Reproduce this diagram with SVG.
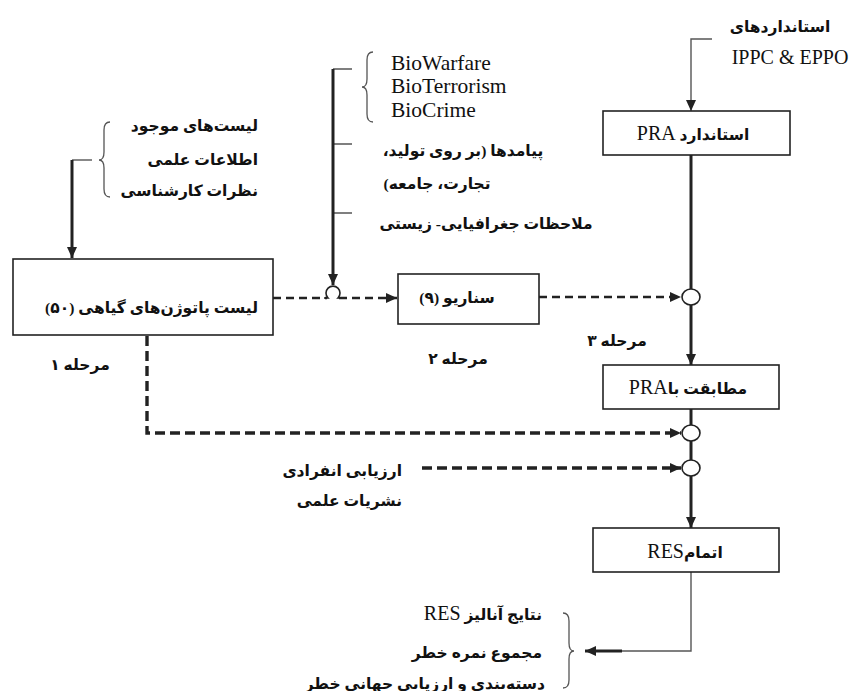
<svg xmlns="http://www.w3.org/2000/svg" width="850" height="691" viewBox="0 0 850 691">
<style>
.box{fill:#fff;stroke:#222;stroke-width:1.6}
.fa{font-family:"Liberation Serif","DejaVu Sans",serif;font-size:15.5px;font-weight:bold;fill:#111}
.lat{font-family:"Liberation Serif",serif;font-size:20px;font-weight:normal}
.en{font-family:"Liberation Serif",serif;font-size:20px;fill:#111}
.bio{font-size:21.5px}
.thick{fill:none;stroke:#222;stroke-width:3}
.thin{fill:none;stroke:#555;stroke-width:1.4}
.dash{fill:none;stroke:#222;stroke-width:2.6;stroke-dasharray:8 5}
.dash2{fill:none;stroke:#222;stroke-width:3.4;stroke-dasharray:10 5}
.junc{fill:#fff;stroke:#222;stroke-width:1.6}
.brace{fill:none;stroke:#555;stroke-width:1.3}
</style>
<defs>
<marker id="arr" markerUnits="userSpaceOnUse" markerWidth="12" markerHeight="12" refX="11" refY="6" orient="auto">
<path d="M0,1 L11,6 L0,11 z" fill="#222"/>
</marker>
</defs>
<rect width="850" height="691" fill="#fff"/>

<g id="connectors">
<path class="thin" d="M92,160 H72"/>
<path class="thick" d="M72,160 V258" marker-end="url(#arr)"/>
<path class="thin" d="M352,69 H333 M352,144 H333 M352,213 H333"/>
<path class="thick" d="M333,69 V285" marker-end="url(#arr)"/>
<path class="dash" d="M273,298 H327"/>
<path class="dash" d="M339,298 H397" marker-end="url(#arr)"/>
<path class="junc" d="M324,298 H328 A7,7 0 1 1 338,298 H342" fill="none"/>
<path class="dash" d="M539,297 H681" marker-end="url(#arr)"/>
<path class="thin" d="M712,39 H691 V111" marker-end="url(#arr)"/>
<path class="thick" d="M691,155 V289"/>
<path class="thick" d="M691,305 V365" marker-end="url(#arr)"/>
<path class="thick" d="M691,409 V425"/>
<path class="thick" d="M691,441 V460"/>
<path class="thick" d="M691,476 V528" marker-end="url(#arr)"/>
<path class="dash2" d="M147,336 V433 H681" marker-end="url(#arr)"/>
<path class="dash2" d="M422,468 H681" marker-end="url(#arr)"/>
<path class="thin" d="M691,572 V651 H620"/>
<path class="thick" d="M622,651 H585" marker-end="url(#arr)"/>
<ellipse class="junc" cx="691" cy="297" rx="9" ry="8"/>
<ellipse class="junc" cx="691" cy="433" rx="9" ry="8"/>
<ellipse class="junc" cx="691" cy="468" rx="9" ry="8"/>
<path class="brace" d="M110,122 Q104,122 104,130 V152 Q104,160 99,160 Q104,160 104,168 V189 Q104,197 110,197"/>
<path class="brace" d="M373,52 Q367,52 367,60 V79 Q367,87 362,87 Q367,87 367,95 V114 Q367,122 373,122"/>
<path class="brace" d="M563,613 Q569,613 569,621 V643 Q569,651 574,651 Q569,651 569,659 V680 Q569,688 563,688"/>
</g>

<g id="node-inputs">
<text class="fa" direction="rtl" text-anchor="start" x="258" y="131">لیست‌های موجود</text>
<text class="fa" direction="rtl" text-anchor="start" x="258" y="165">اطلاعات علمی</text>
<text class="fa" direction="rtl" text-anchor="start" x="258" y="196">نظرات کارشناسی</text>
</g>

<g id="node-pathogens">
<rect class="box" x="13" y="259" width="260" height="76"/>
<text class="fa" direction="rtl" text-anchor="start" x="258" y="313">لیست پاتوژن‌های گیاهی (۵۰)</text>
</g>
<g id="label-stage1"><text class="fa" direction="rtl" text-anchor="middle" x="80" y="370">مرحله ۱</text></g>

<g id="node-bio">
<text class="en bio" x="391" y="70">BioWarfare</text>
<text class="en bio" x="391" y="93">BioTerrorism</text>
<text class="en bio" x="391" y="117">BioCrime</text>
<text class="fa" direction="rtl" text-anchor="middle" x="463" y="156">پیامدها (بر روی تولید،</text>
<text class="fa" direction="rtl" text-anchor="middle" x="437" y="189">تجارت، جامعه)</text>
<text class="fa" direction="rtl" text-anchor="middle" x="486" y="229">ملاحظات جغرافیایی- زیستی</text>
</g>

<g id="node-scenario">
<rect class="box" x="398" y="274" width="141" height="50"/>
<text class="fa" direction="rtl" text-anchor="middle" x="457" y="303">سناریو (۹)</text>
</g>
<g id="label-stage2"><text class="fa" direction="rtl" text-anchor="middle" x="458" y="364">مرحله ۲</text></g>
<g id="label-stage3"><text class="fa" direction="rtl" text-anchor="middle" x="617" y="346">مرحله ۳</text></g>

<g id="node-standards">
<text class="fa" direction="rtl" text-anchor="middle" x="780" y="32">استانداردهای</text>
<text class="en" text-anchor="middle" x="790" y="64">IPPC &amp; EPPO</text>
</g>

<g id="node-pra-standard">
<rect class="box" x="603" y="111" width="187" height="44"/>
<text class="fa" direction="rtl" text-anchor="middle" x="693" y="140">استاندارد <tspan class="lat">PRA</tspan></text>
</g>

<g id="node-pra-match">
<rect class="box" x="603" y="365" width="176" height="44"/>
<text class="fa" direction="rtl" text-anchor="middle" x="688" y="394">مطابقت با<tspan class="lat">PRA</tspan></text>
</g>

<g id="node-individual">
<text class="fa" direction="rtl" text-anchor="start" x="402" y="476">ارزیابی انفرادی</text>
<text class="fa" direction="rtl" text-anchor="start" x="402" y="506">نشریات علمی</text>
</g>

<g id="node-res">
<rect class="box" x="593" y="528" width="186" height="44"/>
<text class="fa" direction="rtl" text-anchor="middle" x="685" y="558">اتمام<tspan class="lat">RES</tspan></text>
</g>

<g id="node-results">
<text class="fa" direction="rtl" text-anchor="start" x="542" y="620">نتایج آنالیز <tspan class="lat">RES</tspan></text>
<text class="fa" direction="rtl" text-anchor="start" x="542" y="658">مجموع نمره خطر</text>
<text class="fa" direction="rtl" text-anchor="start" x="545" y="689">دسته‌بندی و ارزیابی جهانی خطر</text>
</g>
</svg>
